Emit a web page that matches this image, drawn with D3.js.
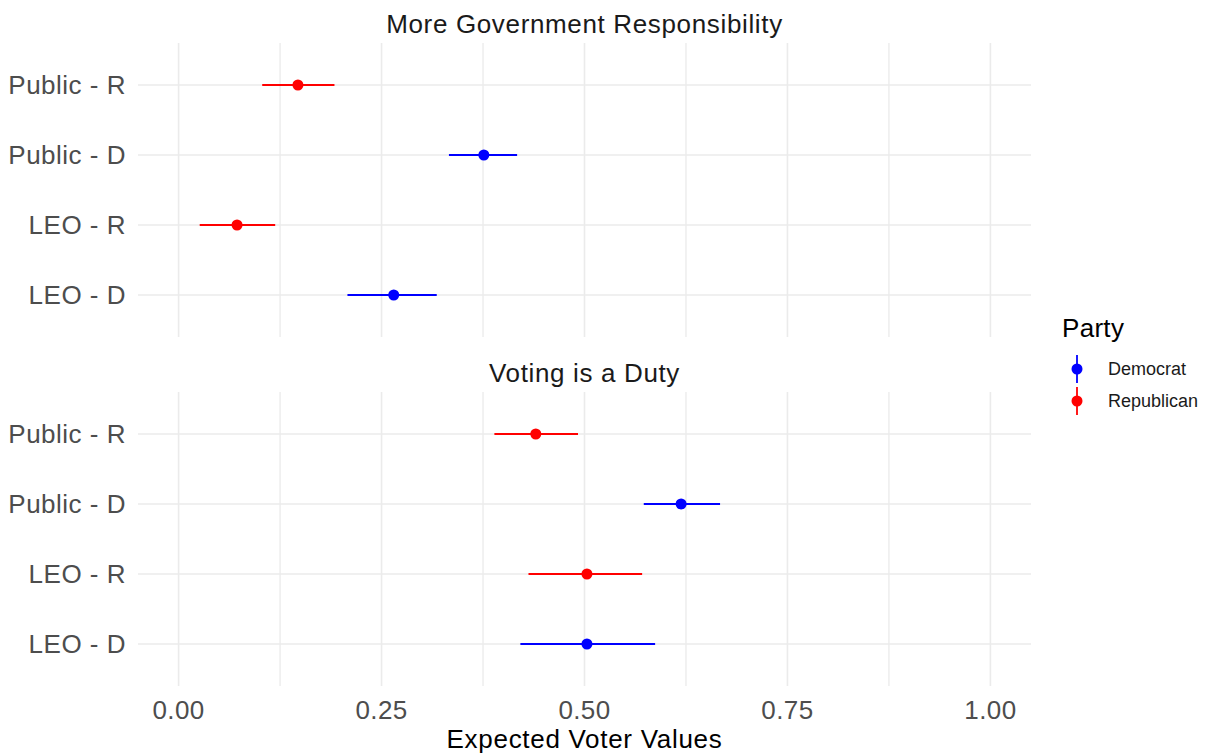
<!DOCTYPE html>
<html>
<head>
<meta charset="utf-8">
<script src="https://cdn.jsdelivr.net/npm/d3@7"></script>
<style>
  body { margin: 0; background: #fff; }
  text { font-family: "Liberation Sans", Arial, sans-serif; }
</style>
</head>
<body>
<svg id="chart" width="1209" height="755"></svg>
<script>
// data
let facets = ["More Government Responsibility", "Voting is a Duty"]
let groups = ["Public - R", "Public - D", "LEO - R", "LEO - D"]
let parties = ["Republican", "Democrat", "Republican", "Democrat"]
let govEst = [0.147, 0.376, 0.072, 0.265]
let govLo = [0.103, 0.333, 0.026, 0.208]
let govHi = [0.192, 0.417, 0.119, 0.318]
let dutyEst = [0.440, 0.619, 0.503, 0.503]
let dutyLo = [0.389, 0.573, 0.431, 0.421]
let dutyHi = [0.492, 0.667, 0.571, 0.587]
let xTicks = [0, 0.25, 0.5, 0.75, 1]
let xMinor = [0.125, 0.375, 0.625, 0.875]
let legendParties = ["Democrat", "Republican"]
let colors = {"Democrat": "#0000ff", "Republican": "#ff0000"}

let svg = d3.select("#chart")

let left = 138, right = 1031
let panels = [{top: 43, bottom: 337}, {top: 392, bottom: 686}]
let x = d3.scaleLinear().domain([-0.05, 1.05]).range([left, right])

let series = [
  {est: govEst, lo: govLo, hi: govHi},
  {est: dutyEst, lo: dutyLo, hi: dutyHi}
]

panels.forEach((p, k) => {
  let y = d3.scalePoint().domain(groups).range([p.top, p.bottom]).padding(0.6)
  let g = svg.append("g")

  // minor grid
  g.selectAll(".minor").data(xMinor).enter().append("line")
    .attr("x1", d => x(d)).attr("x2", d => x(d))
    .attr("y1", p.top).attr("y2", p.bottom)
    .attr("stroke", "#ebebeb").attr("stroke-width", 1.3)

  // major grid
  g.selectAll(".vmajor").data(xTicks).enter().append("line")
    .attr("x1", d => x(d)).attr("x2", d => x(d))
    .attr("y1", p.top).attr("y2", p.bottom)
    .attr("stroke", "#ebebeb").attr("stroke-width", 1.6)

  g.selectAll(".hmajor").data(groups).enter().append("line")
    .attr("x1", left).attr("x2", right)
    .attr("y1", d => y(d)).attr("y2", d => y(d))
    .attr("stroke", "#ebebeb").attr("stroke-width", 1.6)

  // y labels
  g.selectAll(".ylab").data(groups).enter().append("text")
    .attr("x", 126).attr("y", d => y(d))
    .attr("dy", "0.36em")
    .attr("text-anchor", "end")
    .attr("font-size", "26px")
    .attr("letter-spacing", "0.5px")
    .attr("fill", "#4d4d4d")
    .text(d => d)

  // strip title
  svg.append("text")
    .attr("x", (left + right) / 2)
    .attr("y", p.top - 10)
    .attr("text-anchor", "middle")
    .attr("font-size", "26px")
    .attr("letter-spacing", "0.65px")
    .attr("fill", "#1a1a1a")
    .text(facets[k])

  let s = series[k]
  let rows = groups.map((grp, i) => ({grp: grp, party: parties[i], est: s.est[i], lo: s.lo[i], hi: s.hi[i]}))

  g.selectAll(".err").data(rows).enter().append("line")
    .attr("x1", d => x(d.lo)).attr("x2", d => x(d.hi))
    .attr("y1", d => y(d.grp)).attr("y2", d => y(d.grp))
    .attr("stroke", d => colors[d.party])
    .attr("stroke-width", 1.8)

  g.selectAll(".pt").data(rows).enter().append("circle")
    .attr("cx", d => x(d.est)).attr("cy", d => y(d.grp))
    .attr("r", 5.5)
    .attr("fill", d => colors[d.party])
})

// x axis labels
svg.selectAll(".xlab").data(xTicks).enter().append("text")
  .attr("x", d => x(d)).attr("y", 719)
  .attr("text-anchor", "middle")
  .attr("font-size", "26px")
  .attr("letter-spacing", "0.4px")
  .attr("fill", "#4d4d4d")
  .text(d => d3.format(".2f")(d))

svg.append("text")
  .attr("x", (left + right) / 2).attr("y", 748)
  .attr("text-anchor", "middle")
  .attr("font-size", "26px")
  .attr("letter-spacing", "0.7px")
  .attr("fill", "#000")
  .text("Expected Voter Values")

// legend
svg.append("text")
  .attr("x", 1062).attr("y", 337)
  .attr("font-size", "26px")
  .attr("letter-spacing", "0.3px")
  .attr("fill", "#000")
  .text("Party")

let lg = svg.selectAll(".leg").data(legendParties).enter().append("g")
  .attr("transform", (d, i) => "translate(1077," + (369 + i * 32) + ")")

lg.append("line")
  .attr("x1", 0).attr("x2", 0).attr("y1", -14).attr("y2", 14)
  .attr("stroke", d => colors[d]).attr("stroke-width", 1.8)

lg.append("circle").attr("r", 5.5).attr("fill", d => colors[d])

lg.append("text")
  .attr("x", 31).attr("dy", "0.36em")
  .attr("font-size", "18px")
  .attr("fill", "#1a1a1a")
  .text(d => d)
</script>
</body>
</html>
